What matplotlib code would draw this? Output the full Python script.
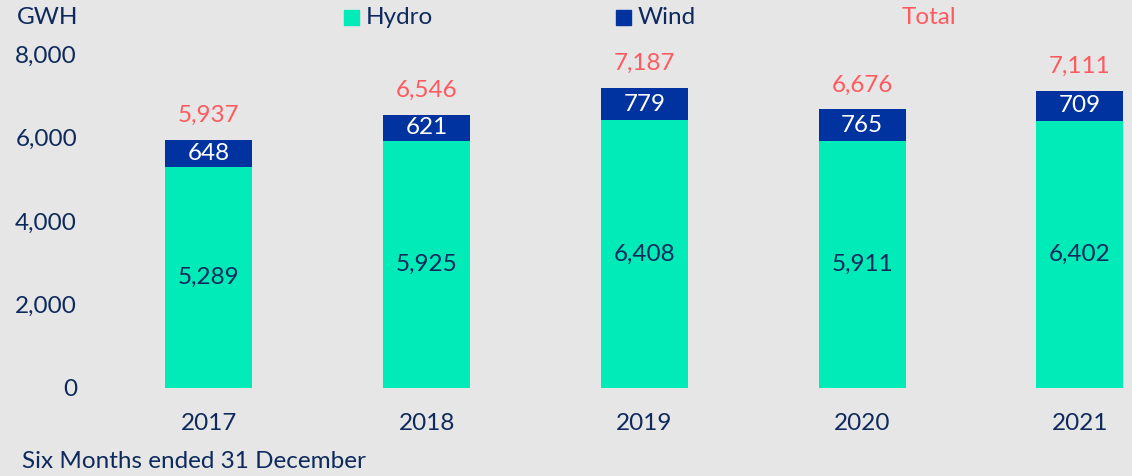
import numpy as np
import matplotlib.pyplot as plt

# data
years = ["2017", "2018", "2019", "2020", "2021"]
hydro = [5289, 5925, 6408, 5911, 6402]
wind = [648, 621, 779, 765, 709]
totals = [5937, 6546, 7187, 6676, 7111]
yticks = [0, 2000, 4000, 6000, 8000]

bg = "#E6E6E6"
c_hydro = "#00EBB8"
c_wind = "#0033A0"
c_total = "#FF5A5F"
c_text = "#0E2A5C"
fs = 17.5

plt.rcParams['font.family'] = ['Lato', 'DejaVu Sans']

W, H = 1132, 476
fig = plt.figure(figsize=(W / 100, H / 100), dpi=100)
fig.patch.set_facecolor(bg)

# axes: left edge 100px, 0 at y=388px, 8000 at y=54px
ax = fig.add_axes([100 / W, (H - 388) / H, (W - 100) / W, (388 - 54) / H])
ax.set_facecolor(bg)

x = np.arange(len(years))
bw = 0.4
ax.bar(x, hydro, width=bw, color=c_hydro)
ax.bar(x, wind, width=bw, bottom=hydro, color=c_wind)

for i in range(len(years)):
    ax.text(x[i], hydro[i] / 2, f"{hydro[i]:,}", ha="center", va="center",
            fontsize=fs, color=c_text)
    ax.text(x[i], hydro[i] + wind[i] / 2, f"{wind[i]:,}", ha="center", va="center",
            fontsize=fs, color="white")
    ax.annotate(f"{totals[i]:,}", (x[i], totals[i]), xytext=(0, 17.5),
                textcoords="offset points", ha="center", va="center",
                fontsize=fs, color=c_total, annotation_clip=False)

ax.set_xlim(-0.5, (W - 210) / 217.5)
ax.set_ylim(0, 8000)
ax.set_yticks(yticks)
ax.set_yticklabels([f"{v:,}" for v in yticks])
ax.set_xticks(x)
ax.set_xticklabels(years)
ax.tick_params(length=0, labelsize=fs, labelcolor=c_text)
ax.tick_params(axis="y", pad=16.5)
ax.tick_params(axis="x", pad=18)
for s in ax.spines.values():
    s.set_visible(False)

# header / legend
fig.text(48 / W, 1 - 17 / H, "GWH", ha="center", va="center", fontsize=fs, color=c_text)
fig.patches.append(plt.Rectangle((344 / W, 1 - 25 / H), 15 / W, 15 / H,
                                 transform=fig.transFigure, color=c_hydro))
fig.text(366 / W, 1 - 17 / H, "Hydro", ha="left", va="center", fontsize=fs, color=c_text)
fig.patches.append(plt.Rectangle((616 / W, 1 - 25 / H), 15 / W, 15 / H,
                                 transform=fig.transFigure, color=c_wind))
fig.text(638 / W, 1 - 17 / H, "Wind", ha="left", va="center", fontsize=fs, color=c_text)
fig.text(929 / W, 1 - 17 / H, "Total", ha="center", va="center", fontsize=fs, color=c_total)

fig.text(22 / W, 1 - 462 / H, "Six Months ended 31 December", ha="left", va="center",
         fontsize=fs, color=c_text)

fig.savefig("out.png", dpi=100, facecolor=bg)
